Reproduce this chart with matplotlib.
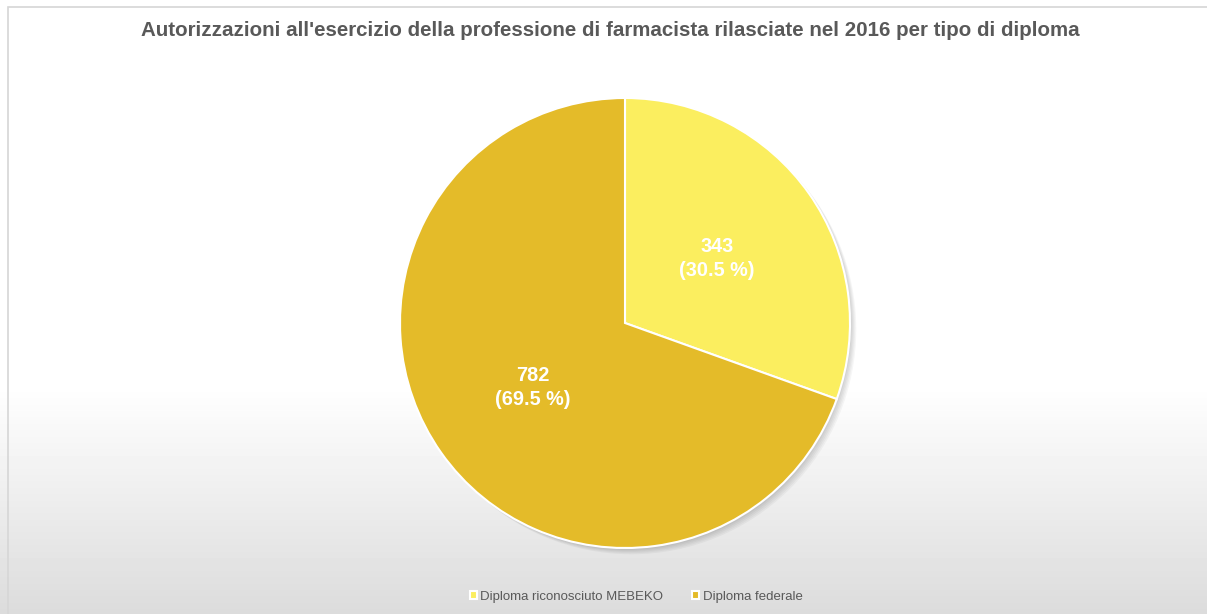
import numpy as np
import matplotlib.pyplot as plt
from matplotlib.patches import Rectangle, Circle

plt.rcParams['font.family'] = ['Liberation Sans', 'DejaVu Sans']

# data
categorie = ["Diploma riconosciuto MEBEKO", "Diploma federale"]
valori = [343, 782]
colori = ["#FBEE5F", "#E4BB29"]
titolo = "Autorizzazioni all'esercizio della professione di farmacista rilasciate nel 2016 per tipo di diploma"

fig = plt.figure(figsize=(12.07, 6.14), dpi=100)

# background gradient (white top -> light gray bottom)
bg = fig.add_axes([0, 0, 1, 1], zorder=-10)
rows = 614
start = 385
t = np.clip((np.arange(rows) - start) / (rows - start), 0, 1)
g = 1.0 - t * (1.0 - 0.86)
img = np.tile(g[:, None], (1, 10))
bg.imshow(img, cmap="gray", vmin=0, vmax=1, aspect="auto", extent=[0, 1, 0, 1], origin="upper")
bg.set_xlim(0, 1)
bg.set_ylim(0, 1)
bg.axis("off")
bg.add_patch(Rectangle((8 / 1207, -0.01), 1.2, 1 - 7 / 614 + 0.01, fill=False,
                       edgecolor="#d6d6d6", linewidth=1.2, transform=bg.transAxes))

# pie
ax = fig.add_axes([400 / 1207, 66 / 614, 450 / 1207, 450 / 614])
for i in range(5):
    ax.add_patch(Circle((0.008 + i * 0.005, -0.008 - i * 0.005), 1.0, color="black",
                        alpha=0.035, zorder=0, linewidth=0, clip_on=False))

tot = sum(valori)
etichette = [f"{v}\n({v / tot * 100:.1f} %)" for v in valori]
wedges, texts = ax.pie(valori, colors=colori, startangle=90, counterclock=False,
                       labels=etichette, labeldistance=0.5, radius=1.0,
                       wedgeprops=dict(edgecolor="white", linewidth=1.5),
                       textprops=dict(color="white", fontsize=14.3, fontweight="bold",
                                      ha="center", va="center", linespacing=1.35))
for w in wedges:
    w.set_zorder(2)
for t_ in texts:
    t_.set_zorder(3)
    t_.set_horizontalalignment("center")
    t_.set_multialignment("center")
ax.set_xlim(-1, 1)
ax.set_ylim(-1, 1)
ax.set_aspect("equal")
ax.axis("off")

fig.text(610 / 1207, 1 - 31 / 614, titolo, ha="center", va="center", fontsize=14.8,
         fontweight="bold", color="#595959")

leg = fig.legend(wedges, categorie, loc="center", bbox_to_anchor=(0.527, 1 - 597 / 614),
                 ncol=2, frameon=False, fontsize=9.5, handlelength=0.55, handleheight=0.55,
                 handletextpad=0.25, columnspacing=2.2, labelcolor="#595959")

fig.savefig("out.png", dpi=100)
